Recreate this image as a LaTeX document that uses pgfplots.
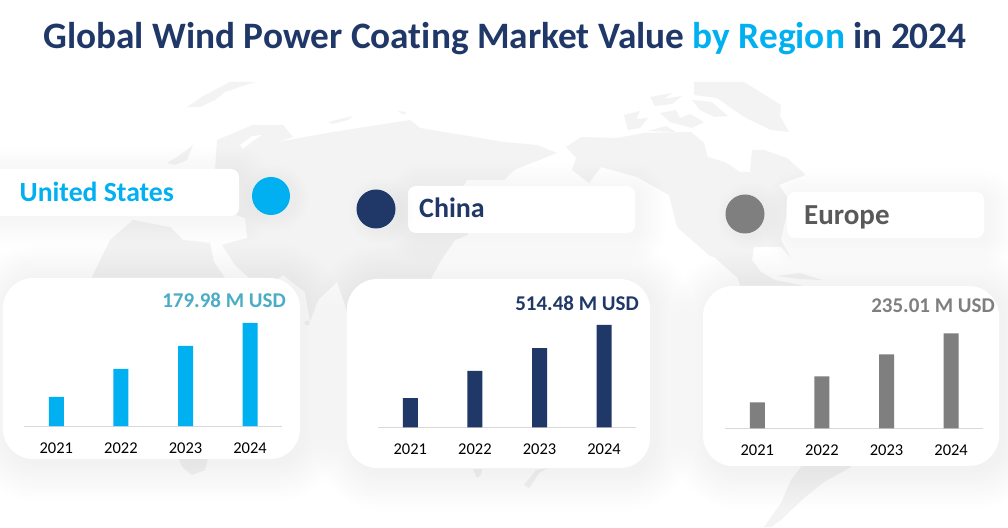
\documentclass[border=0pt]{standalone}
\usepackage{fontspec}
\setmainfont{Carlito}[Ligatures=NoCommon]
\usepackage{pgfplots}
\pgfplotsset{compat=1.18}

\definecolor{skyblue}{HTML}{00B0F0}
\definecolor{navy}{HTML}{1F3868}
\definecolor{midgrey}{HTML}{7F7F7F}
\definecolor{mapgrey}{HTML}{F3F3F3}
\definecolor{axisgrey}{HTML}{D9D9D9}
\definecolor{tealval}{HTML}{4BACC6}

% soft shadow: stacked see-through rounded boxes, coordinates in image pixels
\newcommand{\softbox}[6]{% x0,y0,x1,y1,radius,spread
  \foreach \s in {2,5,...,#6}{
    \fill[black,opacity=0.005,rounded corners={#5pt+\s pt}]
      ({#1-\s+5},{#2-\s+4}) rectangle ({#3+\s+5},{#4+\s+4});
  }
  \fill[white,rounded corners=#5pt] (#1,#2) rectangle (#3,#4);
}
\newcommand{\softdot}[3]{% x,y,r
  \foreach \s in {2,4,...,14}{
    \fill[black,opacity=0.005] ({#1+5},{#2+2}) circle ({#3+\s});
  }
}

\pgfplotsset{
  regionbars/.style={
    scale only axis, width=258.4pt, height=110pt,
    anchor=south west,
    ybar, bar width=15pt, bar shift=0pt,
    xmin=-0.5, xmax=3.5, ymin=0,
    axis y line=none,
    axis x line=bottom,
    axis line style={-,axisgrey,line width=0.9pt},
    xtick=data, xticklabels={2021,2022,2023,2024},
    major tick length=0pt,
    xticklabel style={font=\fontsize{16.5}{17}\selectfont,text=black,yshift=-13pt},
  },
}

\begin{document}
\begin{tikzpicture}[x=1pt,y=1pt]
\useasboundingbox (0,0) rectangle (1008,527);
\fill[white] (0,0) rectangle (1008,527);

\begin{scope}[shift={(0,527)},y=-1pt]
  % world map behind everything (mirrored, as in the picture)
  \begin{scope}
  \clip (0,81) rectangle (1008,527);
  \fill[mapgrey] (694,82) -- (744,82) -- (781,105) -- (780,116) -- (789,132) -- (771,130) -- (744,117) -- (717,98) -- (694,95) -- cycle;
  \fill[mapgrey] (566,147) -- (581,137) -- (617,138) -- (644,133) -- (691,132) -- (703,142) -- (722,160) -- (740,172) -- (750,172) -- (752,150) -- (764,150) -- (787,158) -- (806,175) -- (791,180) -- (779,185) -- (787,197) -- (786,217) -- (781,240) -- (791,258) -- (781,247) -- (754,247) -- (752,260) -- (761,272) -- (775,280) -- (800,285) -- (830,300) -- (830,420) -- (851,467) -- (824,482) -- (804,498) -- (781,520) -- (771,527) -- (764,527) -- (781,503) -- (791,480) -- (801,467) -- (790,400) -- (745,300) -- (737,277) -- (711,257) -- (677,227) -- (669,195) -- (637,177) -- (601,167) -- (589,183) -- (572,170) -- (576,158) -- cycle;
  \fill[white] (704,143) -- (730,141) -- (744,158) -- (751,173) -- (735,165) -- (708,157) -- cycle;
  \fill[white] (708,256) -- (714,257) -- (734,275) -- (727,273) -- cycle;
  % arctic islands of Canada
  \fill[mapgrey] (624,115) -- (640,111) -- (636,119) -- (648,118) -- (640,128) -- (628,130) -- cycle;
  \fill[mapgrey] (650,97) -- (672,93) -- (664,99) -- (682,96) -- (672,104) -- (655,106) -- cycle;
  \fill[mapgrey] (660,113) -- (676,110) -- (680,118) -- (690,114) -- (704,122) -- (692,128) -- (670,122) -- cycle;
  \fill[mapgrey] (692,100) -- (712,102) -- (728,116) -- (714,117) -- (700,110) -- cycle;
  \fill[mapgrey] (648,131) -- (666,126) -- (676,132) -- cycle;
  % Eurasia
  \fill[mapgrey] (217,140) -- (253,125) -- (283,125) -- (293,137) -- (277,142) -- (333,132) -- (410,120) -- (420,128) -- (504,142) -- (537,145) -- (557,153) -- (514,170) -- (504,180) -- (467,180) -- (455,200) -- (468,235) -- (455,240) -- (440,262) -- (425,290) -- (350,320) -- (337,282) -- (318,300) -- (310,322) -- (305,292) -- (283,275) -- (262,290) -- (235,265) -- (222,245) -- (247,238) -- (245,218) -- (205,205) -- (215,170) -- cycle;
  \fill[white] (240,145) -- (252,136) -- (262,135) -- (250,143) -- (243,149) -- cycle;
  % Africa
  \fill[mapgrey] (92,277) -- (110,240) -- (133,220) -- (170,227) -- (183,240) -- (210,243) -- (214,262) -- (240,300) -- (215,400) -- (208,458) -- (205,470) -- (192,475) -- (183,468) -- (178,458) -- (150,360) -- (100,320) -- cycle;
  % small islands
  \fill[mapgrey] (187,107) -- (205,95) -- (230,82) -- (255,82) -- (225,92) -- (215,100) -- (200,107) -- cycle;
  \fill[mapgrey] (167,163) -- (180,155) -- (193,145) -- (187,160) -- (175,165) -- cycle;
  \fill[mapgrey] (328,122) -- (353,116) -- (348,120) -- (332,124) -- cycle;
  \fill[mapgrey] (398,111) -- (406,112) -- (404,115) -- cycle;
  \fill[mapgrey] (777,276) -- (800,273) -- (822,280) -- (800,279) -- cycle;
  \fill[mapgrey] (473,469) -- (482,469) -- (481,475) -- (477,478) -- cycle;
  \fill[mapgrey] (547,468) -- (539,473) -- (529,488) -- (524,485) -- (536,470) -- cycle;
  \fill[mapgrey] (307,323) circle (2.5);
  \end{scope}

  % cards and name plates
  \softbox{3}{278}{300}{459}{30}{38}
  \softbox{347}{279}{650}{468}{30}{38}
  \softbox{703}{286}{999}{466}{30}{38}
  \softbox{-8}{169}{239}{216}{8}{26}
  \softbox{408}{186}{635}{233}{8}{26}
  \softbox{787}{192}{984}{238}{8}{26}

  \softdot{271}{196}{19}
  \softdot{376}{209}{19.5}
  \softdot{745}{214}{19.5}
  \fill[skyblue] (271,196) circle (19);
  \fill[navy] (376,209) circle (19.5);
  \fill[midgrey] (745,214) circle (19.5);

  % title and names
  \node[anchor=base,text=navy,font=\fontsize{37.3}{38}\selectfont\bfseries] at (505,49)
    {Global Wind Power Coating Market Value \textcolor{skyblue}{by Region} in 2024};
  \node[anchor=base west,inner sep=0pt,text=skyblue,font=\fontsize{27.7}{28}\selectfont\bfseries] at (19.5,201.5) {United States};
  \node[anchor=base west,inner sep=0pt,text=navy,font=\fontsize{28}{29}\selectfont\bfseries] at (419,217.5) {China};
  \node[anchor=base west,inner sep=0pt,text=black!65,font=\fontsize{29}{30}\selectfont\bfseries] at (804,225) {Europe};
\end{scope}

% United States
\begin{axis}[regionbars, at={(24pt,101pt)}, ymax=192.2]
\addplot[fill=skyblue,draw=none] coordinates {(0,50.7) (1,99.6) (2,139.8) (3,179.98)};
\end{axis}
% China
\begin{axis}[regionbars, at={(378pt,99.5pt)}, ymax=552.1]
\addplot[fill=navy,draw=none] coordinates {(0,148) (1,284) (2,399) (3,514.48)};
\end{axis}
% Europe
\begin{axis}[regionbars, at={(725pt,98.7pt)}, ymax=272.1]
\addplot[fill=midgrey,draw=none] coordinates {(0,64.3) (1,128.6) (2,183) (3,235.01)};
\end{axis}

\begin{scope}[shift={(0,527)},y=-1pt]
  \node[anchor=east,inner sep=0pt,text=tealval,font=\fontsize{21}{22}\selectfont\bfseries] at (286,300) {179.98 M USD};
  \node[anchor=east,inner sep=0pt,text=navy,font=\fontsize{21}{22}\selectfont\bfseries] at (639,303) {514.48 M USD};
  \node[anchor=east,inner sep=0pt,text=midgrey,font=\fontsize{21}{22}\selectfont\bfseries] at (995,306) {235.01 M USD};
\end{scope}
\end{tikzpicture}
\end{document}
